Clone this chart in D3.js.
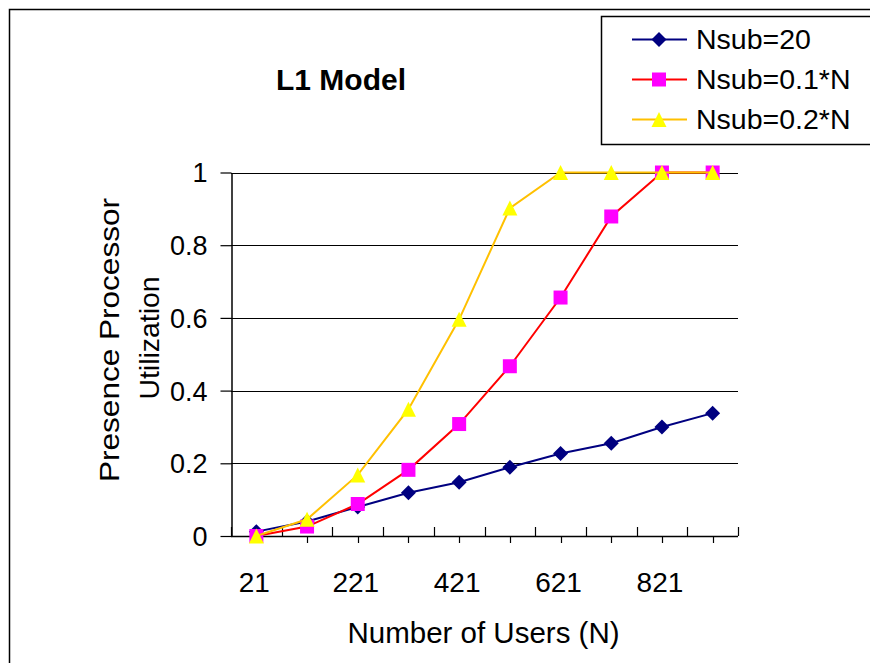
<!DOCTYPE html>
<html>
<head>
<meta charset="utf-8">
<script src="https://cdn.jsdelivr.net/npm/d3@7"></script>
<style>
  html, body { margin: 0; padding: 0; background: #fff; }
  svg { display: block; }
  text { font-family: "Liberation Sans", Arial, sans-serif; fill: #000; }
</style>
</head>
<body>
<svg id="chart" width="870" height="663"></svg>
<script>
// Number of users on the category axis
const users = [21, 121, 221, 321, 421, 521, 621, 721, 821, 921];
const tickLabels = [21, 221, 421, 621, 821];
const yTicks = [0, 0.2, 0.4, 0.6, 0.8, 1];

// Presence processor utilization per configuration
const nsub20 = [0.012, 0.04, 0.08, 0.119, 0.148, 0.189, 0.227, 0.255, 0.300, 0.338];
const nsub01 = [0.0, 0.026, 0.088, 0.182, 0.308, 0.467, 0.656, 0.879, 1.0, 1.0];
const nsub02 = [0.0, 0.046, 0.168, 0.349, 0.596, 0.902, 1.0, 1.0, 1.0, 1.0];

const seriesNames = ["Nsub=20", "Nsub=0.1*N", "Nsub=0.2*N"];

// custom marker shapes (diamond, square, triangle)
const diamondType = { draw(ctx, size) { const r = Math.sqrt(size) / 2;
  ctx.moveTo(0, -r); ctx.lineTo(r, 0); ctx.lineTo(0, r); ctx.lineTo(-r, 0); ctx.closePath(); } };
const squareType = { draw(ctx, size) { const r = Math.sqrt(size) / 2;
  ctx.rect(-r, -r, 2 * r, 2 * r); } };
const triangleType = { draw(ctx, size) { const r = Math.sqrt(size) / 2;
  ctx.moveTo(0, -r); ctx.lineTo(r, r); ctx.lineTo(-r, r); ctx.closePath(); } };

const series = [
  { name: seriesNames[0], values: nsub20, line: "#000080", fill: "#000080", symbol: d3.symbol().type(diamondType).size(225) },
  { name: seriesNames[1], values: nsub01, line: "#FF0000", fill: "#FF00FF", symbol: d3.symbol().type(squareType).size(196) },
  { name: seriesNames[2], values: nsub02, line: "#FFC000", fill: "#FFFF00", symbol: d3.symbol().type(triangleType).size(225) }
];

const svg = d3.select("#chart");

// chart area border
svg.append("rect")
  .attr("x", 9.5).attr("y", 9.5)
  .attr("width", 900).attr("height", 700)
  .attr("fill", "#fff").attr("stroke", "#000").attr("stroke-width", 1.5);

const plot = { left: 231, right: 738, top: 172.5, bottom: 536 };

const x = d3.scaleBand().domain(users).range([plot.left, plot.right]);
const y = d3.scaleLinear().domain([0, 1]).range([plot.bottom, plot.top]);
const cx = d => x(d) + x.bandwidth() / 2;

// horizontal gridlines
svg.append("g")
  .selectAll("line")
  .data(yTicks.filter(t => t > 0))
  .join("line")
  .attr("x1", plot.left).attr("x2", plot.right)
  .attr("y1", d => Math.round(y(d)) + 0.5).attr("y2", d => Math.round(y(d)) + 0.5)
  .attr("stroke", "#000").attr("stroke-width", 1.2);

// y axis
const yAxis = d3.axisLeft(y).tickValues(yTicks).tickFormat(d3.format("~g"))
  .tickSizeInner(11).tickSizeOuter(0).tickPadding(13);
const gy = svg.append("g").attr("transform", `translate(${plot.left + 0.5},0)`).call(yAxis);
gy.select(".domain").attr("stroke", "#000").attr("stroke-width", 1.5);
gy.selectAll(".tick line").attr("stroke", "#000").attr("stroke-width", 1.2);
gy.selectAll(".tick text")
  .style("font-size", "27px")
  .style("font-family", "Liberation Sans, Arial, sans-serif")
  .attr("fill", "#000").attr("dy", "0.35em");

// x axis: baseline, inside ticks at category boundaries, outside ticks at category centres
const gx = svg.append("g");
gx.append("line")
  .attr("x1", plot.left).attr("x2", plot.right)
  .attr("y1", plot.bottom + 0.5).attr("y2", plot.bottom + 0.5)
  .attr("stroke", "#000").attr("stroke-width", 1.5);
const bounds = users.map(u => x(u)).concat([x(users[users.length - 1]) + x.bandwidth()]);
gx.selectAll("line.b").data(bounds).join("line").attr("class", "b")
  .attr("x1", d => Math.round(d) + 0.5).attr("x2", d => Math.round(d) + 0.5)
  .attr("y1", plot.bottom - 9).attr("y2", plot.bottom)
  .attr("stroke", "#000").attr("stroke-width", 1.2);
gx.selectAll("line.c").data(users).join("line").attr("class", "c")
  .attr("x1", d => Math.round(cx(d)) + 0.5).attr("x2", d => Math.round(cx(d)) + 0.5)
  .attr("y1", plot.bottom).attr("y2", plot.bottom + 7)
  .attr("stroke", "#000").attr("stroke-width", 1.2);
gx.selectAll("text").data(tickLabels).join("text")
  .attr("x", d => cx(d) - 2).attr("y", 592)
  .attr("text-anchor", "middle")
  .style("font-size", "28px")
  .text(d => d);

// series lines and markers
const line = d3.line().x((d, i) => cx(users[i])).y(d => y(d));

series.forEach(s => {
  svg.append("path")
    .datum(s.values)
    .attr("d", line)
    .attr("fill", "none")
    .attr("stroke", s.line)
    .attr("stroke-width", 2);
  svg.append("g").selectAll("path")
    .data(s.values)
    .join("path")
    .attr("transform", (d, i) => `translate(${cx(users[i])},${y(d)})`)
    .attr("d", s.symbol)
    .attr("fill", s.fill);
});

// title
svg.append("text")
  .attr("x", 341).attr("y", 90)
  .attr("text-anchor", "middle")
  .style("font-size", "30px").style("font-weight", "bold")
  .text("L1 Model");

// axis titles
svg.append("text")
  .attr("x", 483.5).attr("y", 643)
  .attr("text-anchor", "middle")
  .style("font-size", "29.5px")
  .text("Number of Users (N)");

const yTitle = svg.append("text")
  .attr("transform", "translate(0,340) rotate(-90)")
  .attr("text-anchor", "middle")
  .style("font-size", "28px");
yTitle.append("tspan").attr("x", 0).attr("y", 118.5)
  .attr("textLength", 284).attr("lengthAdjust", "spacingAndGlyphs")
  .text("Presence Processor");
yTitle.append("tspan").attr("x", 2).attr("y", 158.5)
  .attr("textLength", 123).attr("lengthAdjust", "spacingAndGlyphs")
  .text("Utilization");

// legend
const legend = svg.append("g");
legend.append("rect")
  .attr("x", 601.5).attr("y", 16.5)
  .attr("width", 300).attr("height", 128)
  .attr("fill", "#fff").attr("stroke", "#000").attr("stroke-width", 1.5);
const legendRows = [39.5, 79.5, 119.5];
series.forEach((s, i) => {
  const ly = legendRows[i];
  const g = legend.append("g");
  g.append("line")
    .attr("x1", 632).attr("x2", 687).attr("y1", ly).attr("y2", ly)
    .attr("stroke", s.line).attr("stroke-width", 2);
  g.append("path")
    .attr("transform", `translate(659,${ly})`)
    .attr("d", s.symbol)
    .attr("fill", s.fill);
  g.append("text")
    .attr("x", 696).attr("y", ly + 9.5)
    .style("font-size", "28.5px")
    .text(s.name);
});
</script>
</body>
</html>
